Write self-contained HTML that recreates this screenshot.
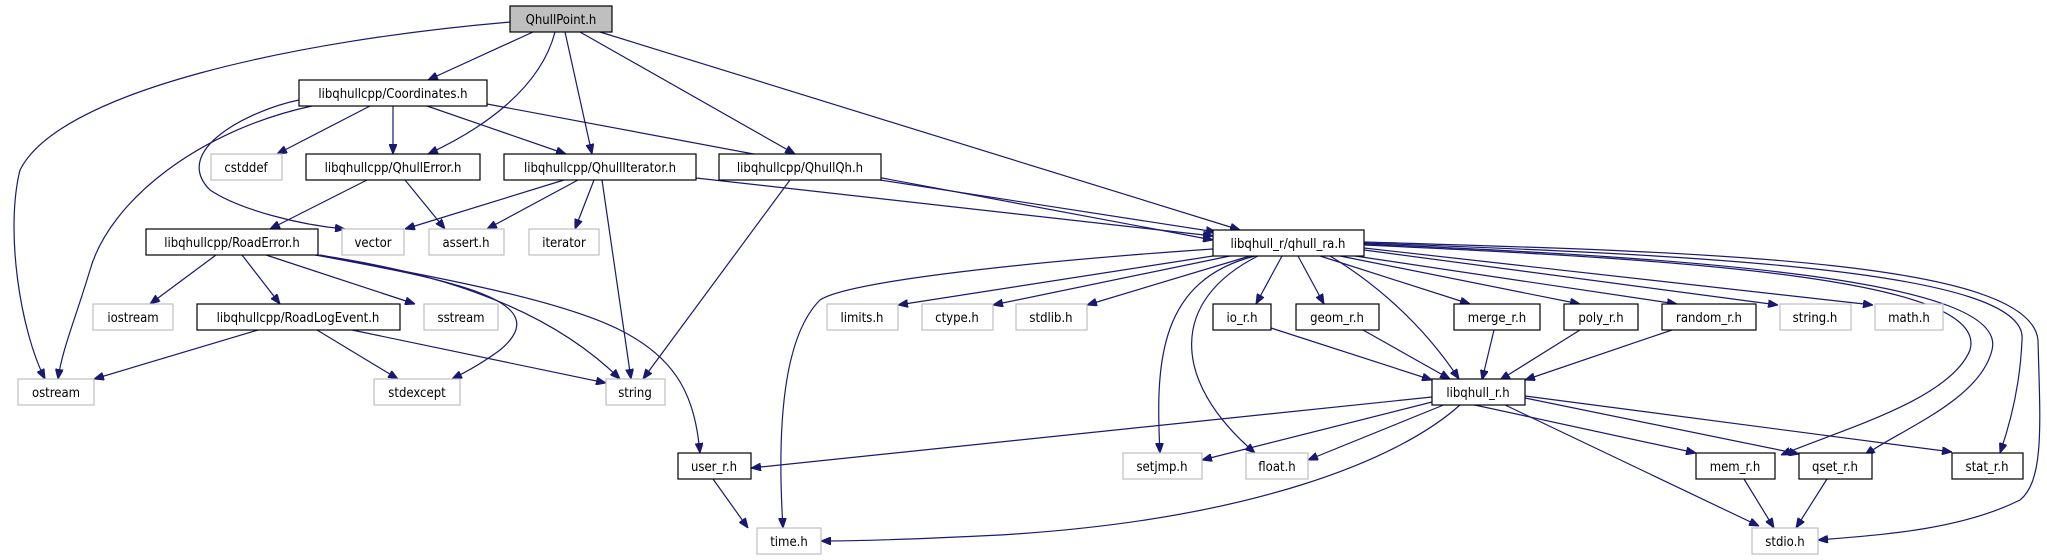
<!DOCTYPE html>
<html><head><meta charset="utf-8"><style>
html,body{margin:0;padding:0;background:#fff;}
svg{display:block;}
text{font-family:"DejaVu Sans Condensed","Liberation Sans",sans-serif;font-size:13px;fill:#000;text-anchor:middle;}
.b{fill:#fff;stroke:#000;stroke-width:1.2;}
.g{fill:#fff;stroke:#bfbfbf;stroke-width:1.2;}
path{fill:none;stroke:#191970;stroke-width:1.2;}
</style></head><body>
<svg width="2047" height="560" viewBox="0 0 2047 560" xmlns="http://www.w3.org/2000/svg">
<defs><marker id="a" markerWidth="10" markerHeight="8" refX="10" refY="4" orient="auto" markerUnits="userSpaceOnUse"><path d="M0,0 L10,4 L0,8 Z" style="fill:#191970;stroke:#191970;stroke-width:1"/></marker></defs>
<g marker-end="url(#a)">
<!-- QhullPoint -->
<path d="M510,22 C300,40 60,90 20,170 C5,230 20,330 45,379"/>
<path d="M533,32 L428,80"/>
<path d="M555,32 C540,90 480,130 428,154"/>
<path d="M565,32 L592,154"/>
<path d="M580,32 L795,154"/>
<path d="M600,32 L1240,230"/>
<!-- Coordinates -->
<path d="M370,106 L277,154"/>
<path d="M393,106 L393,154"/>
<path d="M427,106 L566,154"/>
<path d="M299,100 C250,110 170,150 210,190 C240,210 300,225 345,229"/>
<path d="M312,106 C200,130 110,200 90,270 C75,320 62,350 58,379"/>
<path d="M487,104 L1213,240"/>
<!-- QhullError -->
<path d="M367,180 L270,229"/>
<path d="M405,180 L445,229"/>
<!-- QhullIterator -->
<path d="M564,180 L405,229"/>
<path d="M578,180 L487,229"/>
<path d="M594,180 L575,229"/>
<path d="M602,180 L631,379"/>
<path d="M696,178 L1213,236"/>
<!-- QhullQh -->
<path d="M880,180 L1216,232"/>
<path d="M790,180 L643,379"/>
<!-- RoadError -->
<path d="M216,255 L150,304"/>
<path d="M242,255 L280,304"/>
<path d="M266,255 L415,304"/>
<path d="M315,255 C450,280 560,300 500,350 C480,365 460,375 452,379"/>
<path d="M318,255 C420,270 540,300 620,379"/>
<path d="M320,255 C450,280 560,300 620,330 C680,360 695,400 700,453"/>
<!-- RoadLogEvent -->
<path d="M258,330 L94,379"/>
<path d="M317,330 L398,379"/>
<path d="M352,330 L606,383"/>
<!-- qhull_ra -->
<path d="M1213,249 C1050,260 850,280 820,300 C790,330 775,400 783,528"/>
<path d="M1213,256 L898,305"/>
<path d="M1230,256 L993,305"/>
<path d="M1250,256 L1087,305"/>
<path d="M1282,256 L1256,304"/>
<path d="M1298,256 L1324,304"/>
<path d="M1255,256 C1160,280 1155,360 1160,453"/>
<path d="M1258,256 C1170,300 1170,380 1255,453"/>
<path d="M1330,256 C1370,280 1420,320 1459,379"/>
<path d="M1320,256 L1470,304"/>
<path d="M1340,256 L1580,304"/>
<path d="M1355,256 L1677,304"/>
<path d="M1364,250 L1778,305"/>
<path d="M1364,248 L1873,305"/>
<path d="M1364,245 C1700,260 1990,280 1970,350 C1950,400 1840,430 1781,455"/>
<path d="M1364,244 C1700,258 2010,280 1992,350 C1980,400 1900,430 1865,455"/>
<path d="M1364,243 C1700,255 2030,270 2022,340 C2020,390 2008,430 2000,453"/>
<path d="M1364,242 C1700,252 2030,260 2038,340 C2040,420 2045,480 2020,500 C1960,530 1880,535 1818,540"/>
<!-- sub to libqhull_r -->
<path d="M1271,328 L1432,380"/>
<path d="M1363,330 L1450,379"/>
<path d="M1494,330 L1482,380"/>
<path d="M1580,330 L1500,380"/>
<path d="M1672,330 L1525,380"/>
<!-- libqhull_r -->
<path d="M1432,397 L751,468"/>
<path d="M1432,402 L1202,460"/>
<path d="M1446,404 L1308,460"/>
<path d="M1461,404 C1400,460 1250,520 1000,535 C900,540 840,541 821,541"/>
<path d="M1470,404 L1696,453"/>
<path d="M1525,398 L1799,454"/>
<path d="M1525,396 L1952,452"/>
<path d="M1503,404 L1759,526"/>
<!-- bottom -->
<path d="M713,479 L748,528"/>
<path d="M1744,479 L1774,528"/>
<path d="M1827,479 L1796,528"/>
</g>
<!-- nodes -->
<rect x="510" y="6" width="102" height="26" style="fill:#bfbfbf;stroke:#000;stroke-width:1.2"/><text x="561" y="24">QhullPoint.h</text>
<rect class="b" x="299" y="80" width="188" height="26"/><text x="393" y="98">libqhullcpp/Coordinates.h</text>
<rect class="g" x="211" y="154" width="71" height="26"/><text x="246" y="172">cstddef</text>
<rect class="b" x="306" y="154" width="174" height="26"/><text x="393" y="172">libqhullcpp/QhullError.h</text>
<rect class="b" x="504" y="154" width="192" height="26"/><text x="600" y="172">libqhullcpp/QhullIterator.h</text>
<rect class="b" x="719" y="154" width="162" height="26"/><text x="800" y="172">libqhullcpp/QhullQh.h</text>
<rect class="b" x="146" y="229" width="172" height="26"/><text x="232" y="247">libqhullcpp/RoadError.h</text>
<rect class="g" x="342" y="229" width="62" height="26"/><text x="373" y="247">vector</text>
<rect class="g" x="429" y="229" width="75" height="26"/><text x="466" y="247">assert.h</text>
<rect class="g" x="529" y="229" width="70" height="26"/><text x="564" y="247">iterator</text>
<rect class="b" x="1213" y="230" width="151" height="26"/><text x="1288" y="248">libqhull_r/qhull_ra.h</text>
<rect class="g" x="93" y="304" width="80" height="26"/><text x="133" y="322">iostream</text>
<rect class="b" x="197" y="304" width="203" height="26"/><text x="298" y="322">libqhullcpp/RoadLogEvent.h</text>
<rect class="g" x="424" y="304" width="74" height="26"/><text x="461" y="322">sstream</text>
<rect class="g" x="827" y="304" width="71" height="26"/><text x="862" y="322">limits.h</text>
<rect class="g" x="922" y="304" width="71" height="26"/><text x="957" y="322">ctype.h</text>
<rect class="g" x="1016" y="304" width="71" height="26"/><text x="1051" y="322">stdlib.h</text>
<rect class="b" x="1213" y="304" width="58" height="26"/><text x="1242" y="322">io_r.h</text>
<rect class="b" x="1296" y="304" width="83" height="26"/><text x="1337" y="322">geom_r.h</text>
<rect class="b" x="1454" y="304" width="86" height="26"/><text x="1497" y="322">merge_r.h</text>
<rect class="b" x="1564" y="304" width="74" height="26"/><text x="1601" y="322">poly_r.h</text>
<rect class="b" x="1662" y="304" width="94" height="26"/><text x="1709" y="322">random_r.h</text>
<rect class="g" x="1780" y="304" width="71" height="26"/><text x="1815" y="322">string.h</text>
<rect class="g" x="1875" y="304" width="68" height="26"/><text x="1909" y="322">math.h</text>
<rect class="g" x="18" y="379" width="76" height="26"/><text x="56" y="397">ostream</text>
<rect class="g" x="374" y="379" width="86" height="26"/><text x="417" y="397">stdexcept</text>
<rect class="g" x="606" y="379" width="59" height="26"/><text x="635" y="397">string</text>
<rect class="b" x="1432" y="379" width="93" height="26"/><text x="1478" y="397">libqhull_r.h</text>
<rect class="b" x="678" y="453" width="73" height="26"/><text x="714" y="471">user_r.h</text>
<rect class="g" x="1123" y="453" width="79" height="26"/><text x="1162" y="471">setjmp.h</text>
<rect class="g" x="1246" y="453" width="62" height="26"/><text x="1277" y="471">float.h</text>
<rect class="b" x="1696" y="453" width="79" height="26"/><text x="1735" y="471">mem_r.h</text>
<rect class="b" x="1799" y="453" width="73" height="26"/><text x="1835" y="471">qset_r.h</text>
<rect class="b" x="1952" y="453" width="71" height="26"/><text x="1987" y="471">stat_r.h</text>
<rect class="g" x="757" y="528" width="64" height="26"/><text x="789" y="546">time.h</text>
<rect class="g" x="1752" y="528" width="66" height="26"/><text x="1785" y="546">stdio.h</text>
</svg>
</body></html>
